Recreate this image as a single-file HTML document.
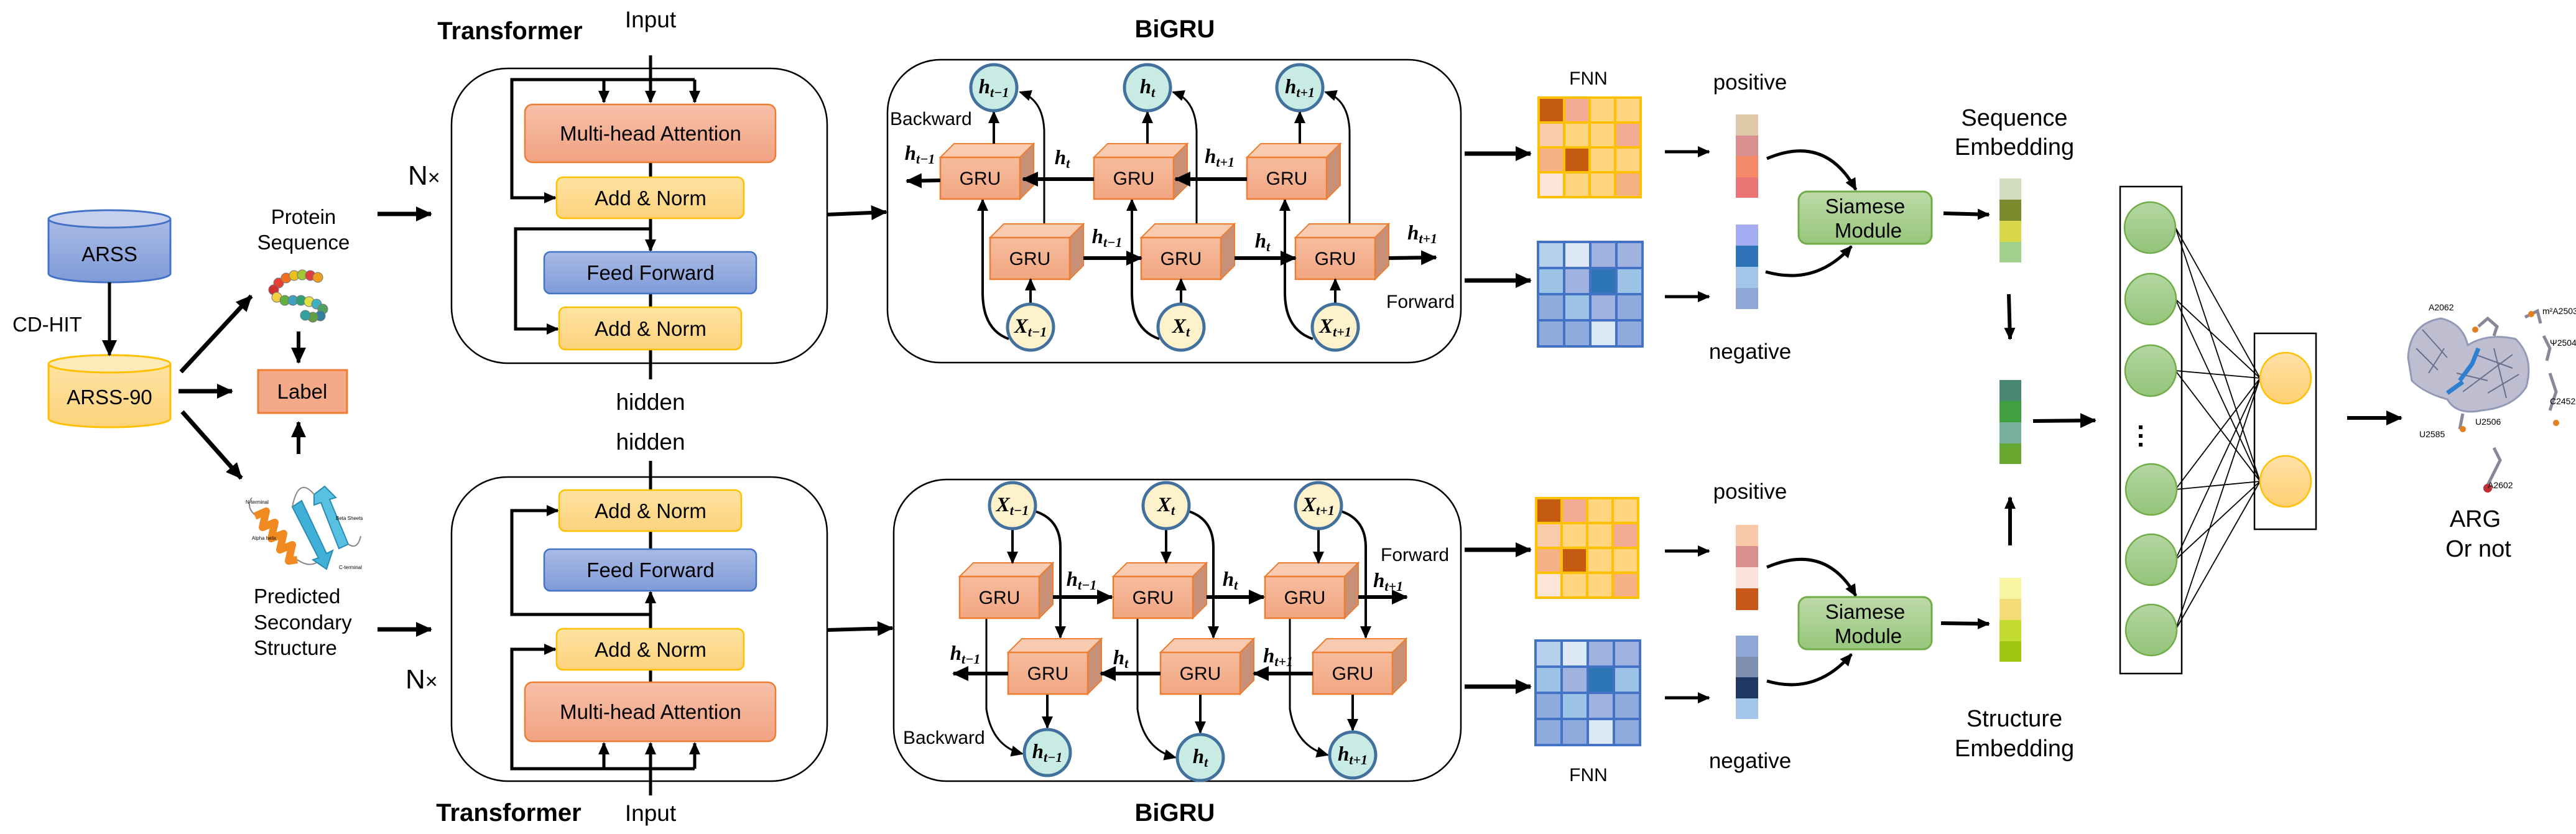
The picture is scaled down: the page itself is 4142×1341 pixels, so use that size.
<!DOCTYPE html>
<html><head><meta charset="utf-8"><style>
html,body{margin:0;padding:0;background:#fff;}
svg{display:block;}
text{font-family:"Liberation Sans",sans-serif;fill:#000;}
.t{font-size:33px;text-anchor:middle;}
.s{font-family:"Liberation Serif",serif;font-style:italic;font-weight:bold;font-size:33px;text-anchor:middle;}
</style></head><body>
<svg width="4142" height="1341" viewBox="0 0 4142 1341" xmlns="http://www.w3.org/2000/svg">
<defs>
<marker id="a" markerUnits="userSpaceOnUse" markerWidth="26" markerHeight="24" refX="24" refY="12" orient="auto"><path d="M0,0 L26,12 L0,24 z" fill="#000"/></marker>
<marker id="b" markerUnits="userSpaceOnUse" markerWidth="20" markerHeight="18" refX="18" refY="9" orient="auto"><path d="M0,0 L20,9 L0,18 z" fill="#000"/></marker>
<linearGradient id="gm" x1="0" y1="0" x2="0" y2="1"><stop offset="0" stop-color="#f6c0a8"/><stop offset="1" stop-color="#f2a282"/></linearGradient>
<linearGradient id="gy" x1="0" y1="0" x2="0" y2="1"><stop offset="0" stop-color="#fee3a2"/><stop offset="1" stop-color="#fdd27c"/></linearGradient>
<linearGradient id="gb" x1="0" y1="0" x2="0" y2="1"><stop offset="0" stop-color="#a9bbe6"/><stop offset="1" stop-color="#7f9bd8"/></linearGradient>
<linearGradient id="gg" x1="0" y1="0" x2="0" y2="1"><stop offset="0" stop-color="#bddaa8"/><stop offset="1" stop-color="#97c67c"/></linearGradient>
<linearGradient id="gc" x1="0" y1="0" x2="0" y2="1"><stop offset="0" stop-color="#b4d6a2"/><stop offset="1" stop-color="#93c47a"/></linearGradient>
<linearGradient id="go" x1="0" y1="0" x2="0" y2="1"><stop offset="0" stop-color="#ffe0a8"/><stop offset="1" stop-color="#ffd070"/></linearGradient>
<linearGradient id="gf" x1="0" y1="0" x2="0" y2="1"><stop offset="0" stop-color="#f6bc9e"/><stop offset="1" stop-color="#f2a682"/></linearGradient>
<g id="gru">
<polygon points="0,0 22,-22 150,-22 128,0" fill="#f8cbb0" stroke="#ed7d31" stroke-width="2"/>
<polygon points="128,0 150,-22 150,45 128,67" fill="#c99078" stroke="#ed7d31" stroke-width="2"/>
<rect x="0" y="0" width="128" height="67" fill="url(#gf)" stroke="#ed7d31" stroke-width="2.5"/>
</g>
</defs>

<!-- LEFT DATA -->
<path d="M78,352 L78,440 A98,14 0 0 0 274,440 L274,352" fill="url(#gb)" stroke="#4472c4" stroke-width="3"/>
<ellipse cx="176" cy="352" rx="98" ry="14" fill="#c5d0ef" stroke="#4472c4" stroke-width="3"/>
<text x="176" y="420" class="t">ARSS</text>
<path d="M78,585 L78,673 A98,14 0 0 0 274,673 L274,585" fill="url(#gy)" stroke="#ffc000" stroke-width="3"/>
<ellipse cx="176" cy="585" rx="98" ry="14" fill="#feeab8" stroke="#ffc000" stroke-width="3"/>
<text x="176" y="650" class="t">ARSS-90</text>
<line x1="176" y1="454" x2="176" y2="571" stroke="#000" stroke-width="5" marker-end="url(#a)"/>
<text x="20" y="533" font-size="33">CD-HIT</text>

<line x1="291" y1="598" x2="404" y2="476" stroke="#000" stroke-width="7" marker-end="url(#a)"/>
<line x1="287" y1="629" x2="373" y2="629" stroke="#000" stroke-width="7" marker-end="url(#a)"/>
<line x1="293" y1="662" x2="388" y2="769" stroke="#000" stroke-width="7" marker-end="url(#a)"/>

<text x="488" y="360" class="t" font-size="32">Protein</text>
<text x="488" y="401" class="t" font-size="32">Sequence</text>
<g stroke="#777" stroke-width="1">
<circle cx="448" cy="455" r="8" fill="#e84030"/><circle cx="460" cy="447" r="8" fill="#f07020"/><circle cx="473" cy="443" r="8" fill="#e8c020"/><circle cx="486" cy="442" r="8" fill="#a0c830"/><circle cx="499" cy="443" r="8" fill="#e04040"/><circle cx="511" cy="446" r="8" fill="#f0a020"/>
<circle cx="440" cy="466" r="8" fill="#d03030"/><circle cx="445" cy="478" r="8" fill="#f0d040"/><circle cx="458" cy="483" r="8" fill="#60b040"/><circle cx="471" cy="483" r="8" fill="#40a0c0"/><circle cx="484" cy="483" r="8" fill="#30a070"/><circle cx="497" cy="485" r="8" fill="#e0e040"/><circle cx="509" cy="489" r="8" fill="#40b0c0"/><circle cx="519" cy="497" r="8" fill="#50a060"/><circle cx="515" cy="508" r="8" fill="#3080a0"/><circle cx="503" cy="510" r="8" fill="#60a040"/><circle cx="491" cy="507" r="8" fill="#30a0a0"/>
</g>
<line x1="480" y1="533" x2="480" y2="583" stroke="#000" stroke-width="6" marker-end="url(#a)"/>
<rect x="415" y="595" width="143" height="69" fill="#f4aa88" stroke="#ed7d31" stroke-width="3"/>
<text x="486" y="641" class="t">Label</text>
<line x1="480" y1="730" x2="480" y2="679" stroke="#000" stroke-width="6" marker-end="url(#a)"/>
<!-- secondary structure -->
<path d="M405,800 Q395,815 410,828" fill="none" stroke="#888" stroke-width="2"/>
<polyline points="410,830 428,822 422,848 442,840 436,866 456,858 450,884 470,876 464,902 478,900" fill="none" stroke="#f08a20" stroke-width="12" stroke-linejoin="round"/>
<path d="M478,900 Q500,915 515,900" fill="none" stroke="#888" stroke-width="2"/>
<polygon points="470,815 485,805 525,890 535,885 525,915 503,900 512,897" fill="#40b0d8" stroke="#2a8cb0" stroke-width="2"/>
<polygon points="505,795 522,782 540,800 530,803 560,875 545,882 516,808 505,812" fill="#58c0e0" stroke="#2a8cb0" stroke-width="2"/>
<path d="M470,815 Q480,765 505,795 M560,875 Q575,885 580,862" fill="none" stroke="#888" stroke-width="2"/>
<text x="395" y="810" font-size="8">N-terminal</text><text x="405" y="868" font-size="8">Alpha helix</text><text x="540" y="836" font-size="8">Beta Sheets</text><text x="545" y="915" font-size="8">C-terminal</text>
<text x="408" y="970" font-size="33">Predicted</text>
<text x="408" y="1012" font-size="33">Secondary</text>
<text x="408" y="1053" font-size="33">Structure</text>

<line x1="607" y1="344" x2="693" y2="344" stroke="#000" stroke-width="7" marker-end="url(#a)"/>
<line x1="607" y1="1012" x2="693" y2="1012" stroke="#000" stroke-width="7" marker-end="url(#a)"/>
<text x="656" y="297" font-size="44">N<tspan font-size="34">×</tspan></text>
<text x="652" y="1107" font-size="44">N<tspan font-size="34">×</tspan></text>

<!-- TOP TRANSFORMER -->
<text x="820" y="63" font-size="40" font-weight="bold" text-anchor="middle">Transformer</text>
<text x="1046" y="44" font-size="37" text-anchor="middle">Input</text>
<rect x="726" y="110" width="604" height="474" rx="90" fill="none" stroke="#000" stroke-width="2.5"/>
<g stroke="#000" stroke-width="5" fill="none">
<line x1="1046" y1="89" x2="1046" y2="164" marker-end="url(#b)"/>
<polyline points="1117,128 1117,164" marker-end="url(#b)"/>
<polyline points="971,128 971,164" marker-end="url(#b)"/>
<polyline points="1117,128 823,128 823,318 893,318" marker-end="url(#b)"/>
<line x1="1046" y1="261" x2="1046" y2="285"/>
<line x1="1046" y1="351" x2="1046" y2="403" marker-end="url(#b)"/>
<polyline points="1046,368 829,368 829,529 897,529" marker-end="url(#b)"/>
<line x1="1046" y1="472" x2="1046" y2="494"/>
<line x1="1046" y1="562" x2="1046" y2="610"/>
</g>
<rect x="844" y="168" width="403" height="93" rx="12" fill="url(#gm)" stroke="#ed7d31" stroke-width="2.5"/>
<text x="1046" y="226" class="t">Multi-head Attention</text>
<rect x="895" y="285" width="301" height="66" rx="10" fill="url(#gy)" stroke="#ffc000" stroke-width="2.5"/>
<text x="1046" y="330" class="t">Add &amp; Norm</text>
<rect x="875" y="405" width="341" height="67" rx="10" fill="url(#gb)" stroke="#4472c4" stroke-width="2.5"/>
<text x="1046" y="450" class="t">Feed Forward</text>
<rect x="899" y="494" width="293" height="68" rx="10" fill="url(#gy)" stroke="#ffc000" stroke-width="2.5"/>
<text x="1046" y="540" class="t">Add &amp; Norm</text>
<text x="1046" y="659" font-size="37" text-anchor="middle">hidden</text>
<text x="1046" y="723" font-size="37" text-anchor="middle">hidden</text>

<!-- BOTTOM TRANSFORMER -->
<rect x="726" y="767" width="604" height="489" rx="90" fill="none" stroke="#000" stroke-width="2.5"/>
<g stroke="#000" stroke-width="5" fill="none">
<line x1="1046" y1="741" x2="1046" y2="788"/>
<line x1="1046" y1="854" x2="1046" y2="883"/>
<line x1="1046" y1="1011" x2="1046" y2="952" marker-end="url(#b)"/>
<polyline points="1046,988 823,988 823,821 897,821" marker-end="url(#b)"/>
<line x1="1046" y1="1077" x2="1046" y2="1097"/>
<polyline points="1117,1236 823,1236 823,1044 893,1044" marker-end="url(#b)"/>
<line x1="971" y1="1236" x2="971" y2="1195" marker-end="url(#b)"/>
<line x1="1117" y1="1236" x2="1117" y2="1195" marker-end="url(#b)"/>
<line x1="1046" y1="1279" x2="1046" y2="1195" marker-end="url(#b)"/>
</g>
<rect x="899" y="788" width="293" height="66" rx="10" fill="url(#gy)" stroke="#ffc000" stroke-width="2.5"/>
<text x="1046" y="833" class="t">Add &amp; Norm</text>
<rect x="875" y="883" width="341" height="67" rx="10" fill="url(#gb)" stroke="#4472c4" stroke-width="2.5"/>
<text x="1046" y="928" class="t">Feed Forward</text>
<rect x="895" y="1011" width="301" height="66" rx="10" fill="url(#gy)" stroke="#ffc000" stroke-width="2.5"/>
<text x="1046" y="1056" class="t">Add &amp; Norm</text>
<rect x="844" y="1097" width="403" height="95" rx="12" fill="url(#gm)" stroke="#ed7d31" stroke-width="2.5"/>
<text x="1046" y="1156" class="t">Multi-head Attention</text>
<text x="818" y="1320" font-size="40" font-weight="bold" text-anchor="middle">Transformer</text>
<text x="1046" y="1320" font-size="37" text-anchor="middle">Input</text>

<line x1="1330" y1="345" x2="1425" y2="341" stroke="#000" stroke-width="6" marker-end="url(#a)"/>
<line x1="1330" y1="1013" x2="1435" y2="1010" stroke="#000" stroke-width="6" marker-end="url(#a)"/>

<!-- TOP BiGRU -->
<text x="1889" y="60" font-size="40" font-weight="bold" text-anchor="middle">BiGRU</text>
<rect x="1427" y="96" width="922" height="487" rx="85" fill="none" stroke="#000" stroke-width="2.5"/>
<g stroke="#000" stroke-width="3" fill="none">
<path d="M1622,545 Q1580,530 1580,470 L1580,321" marker-end="url(#b)" stroke-width="4"/>
<path d="M1864,545 Q1820,530 1820,470 L1820,321" marker-end="url(#b)" stroke-width="4"/>
<path d="M2111,545 Q2066,530 2066,470 L2066,321" marker-end="url(#b)" stroke-width="4"/>
<path d="M1679,362 L1679,210 Q1677,160 1640,148" marker-end="url(#b)"/>
<path d="M1924,362 L1924,210 Q1922,160 1886,148" marker-end="url(#b)"/>
<path d="M2170,362 L2170,210 Q2168,160 2131,148" marker-end="url(#b)"/>
</g>
<use href="#gru" x="1512" y="253"/><use href="#gru" x="1759" y="253"/><use href="#gru" x="2005" y="253"/>
<use href="#gru" x="1592" y="382"/><use href="#gru" x="1835" y="382"/><use href="#gru" x="2083" y="382"/>
<g font-size="30" text-anchor="middle">
<text x="1576" y="297">GRU</text><text x="1823" y="297">GRU</text><text x="2069" y="297">GRU</text>
<text x="1656" y="426">GRU</text><text x="1899" y="426">GRU</text><text x="2147" y="426">GRU</text>
</g>
<g stroke="#000" stroke-width="6" fill="none">
<line x1="2005" y1="288" x2="1890" y2="288" marker-end="url(#a)"/>
<line x1="1759" y1="288" x2="1645" y2="288" marker-end="url(#a)"/>
<line x1="1512" y1="290" x2="1458" y2="291" marker-end="url(#a)"/>
<line x1="1742" y1="415" x2="1835" y2="415" marker-end="url(#a)"/>
<line x1="1985" y1="415" x2="2083" y2="415" marker-end="url(#a)"/>
<line x1="2233" y1="415" x2="2309" y2="414" marker-end="url(#a)"/>
<line x1="1598" y1="231" x2="1598" y2="180" stroke-width="4" marker-end="url(#b)"/>
<line x1="1845" y1="231" x2="1845" y2="180" stroke-width="4" marker-end="url(#b)"/>
<line x1="2090" y1="231" x2="2090" y2="180" stroke-width="4" marker-end="url(#b)"/>
<line x1="1657" y1="488" x2="1657" y2="449" stroke-width="4" marker-end="url(#b)"/>
<line x1="1899" y1="488" x2="1899" y2="449" stroke-width="4" marker-end="url(#b)"/>
<line x1="2147" y1="488" x2="2147" y2="449" stroke-width="4" marker-end="url(#b)"/>
</g>
<g stroke="#41719c" stroke-width="5">
<circle cx="1598" cy="141" r="37" fill="#c8ece4"/><circle cx="1845" cy="141" r="37" fill="#c8ece4"/><circle cx="2090" cy="141" r="37" fill="#c8ece4"/>
<circle cx="1657" cy="526" r="37" fill="#fdf2cc"/><circle cx="1899" cy="526" r="37" fill="#fdf2cc"/><circle cx="2147" cy="526" r="37" fill="#fdf2cc"/>
</g>
<text x="1598" y="150" class="s">h<tspan font-size="22" dy="6">t−1</tspan></text>
<text x="1845" y="150" class="s">h<tspan font-size="22" dy="6">t</tspan></text>
<text x="2090" y="150" class="s">h<tspan font-size="22" dy="6">t+1</tspan></text>
<text x="1657" y="535" class="s">X<tspan font-size="22" dy="6">t−1</tspan></text>
<text x="1899" y="535" class="s">X<tspan font-size="22" dy="6">t</tspan></text>
<text x="2147" y="535" class="s">X<tspan font-size="22" dy="6">t+1</tspan></text>
<text x="1479" y="257" class="s">h<tspan font-size="22" dy="6">t−1</tspan></text>
<text x="1708" y="264" class="s">h<tspan font-size="22" dy="6">t</tspan></text>
<text x="1961" y="262" class="s">h<tspan font-size="22" dy="6">t+1</tspan></text>
<text x="1780" y="391" class="s">h<tspan font-size="22" dy="6">t−1</tspan></text>
<text x="2030" y="398" class="s">h<tspan font-size="22" dy="6">t</tspan></text>
<text x="2287" y="385" class="s">h<tspan font-size="22" dy="6">t+1</tspan></text>
<text x="1431" y="201" font-size="30">Backward</text>
<text x="2229" y="495" font-size="30">Forward</text>

<!-- BOTTOM BiGRU -->
<rect x="1437" y="771" width="912" height="485" rx="85" fill="none" stroke="#000" stroke-width="2.5"/>
<g stroke="#000" stroke-width="3" fill="none">
<path d="M1664,822 Q1705,835 1705,880 L1705,1025" marker-end="url(#b)" stroke-width="4"/>
<path d="M1911,822 Q1951,835 1951,880 L1951,1025" marker-end="url(#b)" stroke-width="4"/>
<path d="M2156,822 Q2196,835 2196,880 L2196,1025" marker-end="url(#b)" stroke-width="4"/>
<path d="M1586,994 L1586,1140 Q1595,1200 1644,1212" marker-end="url(#b)"/>
<path d="M1829,994 L1829,1140 Q1838,1205 1890,1218" marker-end="url(#b)"/>
<path d="M2074,994 L2074,1140 Q2083,1200 2135,1214" marker-end="url(#b)"/>
</g>
<use href="#gru" x="1543" y="927"/><use href="#gru" x="1790" y="927"/><use href="#gru" x="2034" y="927"/>
<use href="#gru" x="1621" y="1049"/><use href="#gru" x="1866" y="1049"/><use href="#gru" x="2111" y="1049"/>
<g font-size="30" text-anchor="middle">
<text x="1607" y="971">GRU</text><text x="1854" y="971">GRU</text><text x="2098" y="971">GRU</text>
<text x="1685" y="1093">GRU</text><text x="1930" y="1093">GRU</text><text x="2175" y="1093">GRU</text>
</g>
<g stroke="#000" stroke-width="6" fill="none">
<line x1="1693" y1="960" x2="1788" y2="960" marker-end="url(#a)"/>
<line x1="1940" y1="960" x2="2032" y2="960" marker-end="url(#a)"/>
<line x1="2184" y1="960" x2="2262" y2="960" marker-end="url(#a)"/>
<line x1="2111" y1="1083" x2="2016" y2="1083" marker-end="url(#a)"/>
<line x1="1866" y1="1083" x2="1770" y2="1083" marker-end="url(#a)"/>
<line x1="1621" y1="1083" x2="1533" y2="1083" marker-end="url(#a)"/>
<line x1="1628" y1="851" x2="1628" y2="905" stroke-width="4" marker-end="url(#b)"/>
<line x1="1875" y1="851" x2="1875" y2="905" stroke-width="4" marker-end="url(#b)"/>
<line x1="2120" y1="851" x2="2120" y2="905" stroke-width="4" marker-end="url(#b)"/>
<line x1="1684" y1="1117" x2="1684" y2="1170" stroke-width="4" marker-end="url(#b)"/>
<line x1="1930" y1="1117" x2="1930" y2="1178" stroke-width="4" marker-end="url(#b)"/>
<line x1="2175" y1="1117" x2="2175" y2="1174" stroke-width="4" marker-end="url(#b)"/>
</g>
<g stroke="#41719c" stroke-width="5">
<circle cx="1628" cy="813" r="37" fill="#fdf2cc"/><circle cx="1875" cy="813" r="37" fill="#fdf2cc"/><circle cx="2120" cy="813" r="37" fill="#fdf2cc"/>
<circle cx="1684" cy="1210" r="37" fill="#c8ece4"/><circle cx="1930" cy="1218" r="37" fill="#c8ece4"/><circle cx="2175" cy="1214" r="37" fill="#c8ece4"/>
</g>
<text x="1628" y="822" class="s">X<tspan font-size="22" dy="6">t−1</tspan></text>
<text x="1875" y="822" class="s">X<tspan font-size="22" dy="6">t</tspan></text>
<text x="2120" y="822" class="s">X<tspan font-size="22" dy="6">t+1</tspan></text>
<text x="1684" y="1219" class="s">h<tspan font-size="22" dy="6">t−1</tspan></text>
<text x="1930" y="1227" class="s">h<tspan font-size="22" dy="6">t</tspan></text>
<text x="2175" y="1223" class="s">h<tspan font-size="22" dy="6">t+1</tspan></text>
<text x="1739" y="942" class="s">h<tspan font-size="22" dy="6">t−1</tspan></text>
<text x="1978" y="942" class="s">h<tspan font-size="22" dy="6">t</tspan></text>
<text x="2232" y="944" class="s">h<tspan font-size="22" dy="6">t+1</tspan></text>
<text x="1552" y="1061" class="s">h<tspan font-size="22" dy="6">t−1</tspan></text>
<text x="1802" y="1068" class="s">h<tspan font-size="22" dy="6">t</tspan></text>
<text x="2055" y="1065" class="s">h<tspan font-size="22" dy="6">t+1</tspan></text>
<text x="2220" y="902" font-size="30">Forward</text>
<text x="1452" y="1196" font-size="30">Backward</text>
<text x="1889" y="1320" font-size="40" font-weight="bold" text-anchor="middle">BiGRU</text>

<!-- arrows to FNN -->
<g stroke="#000" stroke-width="7">
<line x1="2355" y1="247" x2="2461" y2="247" marker-end="url(#a)"/>
<line x1="2355" y1="451" x2="2461" y2="451" marker-end="url(#a)"/>
<line x1="2355" y1="884" x2="2461" y2="884" marker-end="url(#a)"/>
<line x1="2355" y1="1104" x2="2461" y2="1104" marker-end="url(#a)"/>
<line x1="2677" y1="244" x2="2748" y2="244" stroke-width="5" marker-end="url(#b)"/>
<line x1="2677" y1="477" x2="2748" y2="477" stroke-width="5" marker-end="url(#b)"/>
<line x1="2677" y1="886" x2="2748" y2="886" stroke-width="5" marker-end="url(#b)"/>
<line x1="2677" y1="1122" x2="2748" y2="1122" stroke-width="5" marker-end="url(#b)"/>
</g>
<text x="2554" y="136" font-size="30" text-anchor="middle">FNN</text>
<text x="2554" y="1256" font-size="30" text-anchor="middle">FNN</text>

<g transform="translate(2474,157)" stroke="#ffc000" stroke-width="4">
<rect x="0" y="0" width="41" height="40" fill="#c55a11"/><rect x="41" y="0" width="41" height="40" fill="#f2ac94"/><rect x="82" y="0" width="41" height="40" fill="#ffd57f"/><rect x="123" y="0" width="41" height="40" fill="#ffd57f"/>
<rect x="0" y="40" width="41" height="40" fill="#f8cbad"/><rect x="41" y="40" width="41" height="40" fill="#ffd57f"/><rect x="82" y="40" width="41" height="40" fill="#ffd57f"/><rect x="123" y="40" width="41" height="40" fill="#f2ac94"/>
<rect x="0" y="80" width="41" height="40" fill="#f4b183"/><rect x="41" y="80" width="41" height="40" fill="#c55a11"/><rect x="82" y="80" width="41" height="40" fill="#ffd57f"/><rect x="123" y="80" width="41" height="40" fill="#ffd57f"/>
<rect x="0" y="120" width="41" height="40" fill="#fbe5d6"/><rect x="41" y="120" width="41" height="40" fill="#ffd57f"/><rect x="82" y="120" width="41" height="40" fill="#ffd57f"/><rect x="123" y="120" width="41" height="40" fill="#f4b183"/>
</g>
<g transform="translate(2470,801)" stroke="#ffc000" stroke-width="4">
<rect x="0" y="0" width="41" height="40" fill="#c55a11"/><rect x="41" y="0" width="41" height="40" fill="#f2ac94"/><rect x="82" y="0" width="41" height="40" fill="#ffd57f"/><rect x="123" y="0" width="41" height="40" fill="#ffd57f"/>
<rect x="0" y="40" width="41" height="40" fill="#f8cbad"/><rect x="41" y="40" width="41" height="40" fill="#ffd57f"/><rect x="82" y="40" width="41" height="40" fill="#ffd57f"/><rect x="123" y="40" width="41" height="40" fill="#f2ac94"/>
<rect x="0" y="80" width="41" height="40" fill="#f4b183"/><rect x="41" y="80" width="41" height="40" fill="#c55a11"/><rect x="82" y="80" width="41" height="40" fill="#ffd57f"/><rect x="123" y="80" width="41" height="40" fill="#ffd57f"/>
<rect x="0" y="120" width="41" height="40" fill="#fbe5d6"/><rect x="41" y="120" width="41" height="40" fill="#ffd57f"/><rect x="82" y="120" width="41" height="40" fill="#ffd57f"/><rect x="123" y="120" width="41" height="40" fill="#f4b183"/>
</g>
<g transform="translate(2473,389)" stroke="#4472c4" stroke-width="4">
<rect x="0" y="0" width="42" height="42" fill="#b4d0ec"/><rect x="42" y="0" width="42" height="42" fill="#dce8f6"/><rect x="84" y="0" width="42" height="42" fill="#9fb2e0"/><rect x="126" y="0" width="42" height="42" fill="#9fb2e0"/>
<rect x="0" y="42" width="42" height="42" fill="#9dc3e6"/><rect x="42" y="42" width="42" height="42" fill="#9fb2e0"/><rect x="84" y="42" width="42" height="42" fill="#2e75b6"/><rect x="126" y="42" width="42" height="42" fill="#9dc3e6"/>
<rect x="0" y="84" width="42" height="42" fill="#8faadc"/><rect x="42" y="84" width="42" height="42" fill="#9dc3e6"/><rect x="84" y="84" width="42" height="42" fill="#9fb2e0"/><rect x="126" y="84" width="42" height="42" fill="#8faadc"/>
<rect x="0" y="126" width="42" height="42" fill="#8faadc"/><rect x="42" y="126" width="42" height="42" fill="#8faadc"/><rect x="84" y="126" width="42" height="42" fill="#dae8f6"/><rect x="126" y="126" width="42" height="42" fill="#8faadc"/>
</g>
<g transform="translate(2469,1030)" stroke="#4472c4" stroke-width="4">
<rect x="0" y="0" width="42" height="42" fill="#b4d0ec"/><rect x="42" y="0" width="42" height="42" fill="#dce8f6"/><rect x="84" y="0" width="42" height="42" fill="#9fb2e0"/><rect x="126" y="0" width="42" height="42" fill="#9fb2e0"/>
<rect x="0" y="42" width="42" height="42" fill="#9dc3e6"/><rect x="42" y="42" width="42" height="42" fill="#9fb2e0"/><rect x="84" y="42" width="42" height="42" fill="#2e75b6"/><rect x="126" y="42" width="42" height="42" fill="#9dc3e6"/>
<rect x="0" y="84" width="42" height="42" fill="#8faadc"/><rect x="42" y="84" width="42" height="42" fill="#9dc3e6"/><rect x="84" y="84" width="42" height="42" fill="#9fb2e0"/><rect x="126" y="84" width="42" height="42" fill="#8faadc"/>
<rect x="0" y="126" width="42" height="42" fill="#8faadc"/><rect x="42" y="126" width="42" height="42" fill="#8faadc"/><rect x="84" y="126" width="42" height="42" fill="#dae8f6"/><rect x="126" y="126" width="42" height="42" fill="#8faadc"/>
</g>

<text x="2814" y="144" font-size="35" text-anchor="middle">positive</text>
<text x="2814" y="577" font-size="35" text-anchor="middle">negative</text>
<text x="2814" y="802" font-size="35" text-anchor="middle">positive</text>
<text x="2814" y="1235" font-size="35" text-anchor="middle">negative</text>
<rect x="2791" y="184" width="36" height="34" fill="#dfc8a8"/><rect x="2791" y="218" width="36" height="33" fill="#d89090"/><rect x="2791" y="251" width="36" height="34" fill="#f48a68"/><rect x="2791" y="285" width="36" height="33" fill="#ea7474"/>
<rect x="2791" y="361" width="36" height="34" fill="#a4acf2"/><rect x="2791" y="395" width="36" height="34" fill="#2f74b8"/><rect x="2791" y="429" width="36" height="34" fill="#a2c6ea"/><rect x="2791" y="463" width="36" height="34" fill="#90a8d8"/>
<rect x="2791" y="844" width="36" height="34" fill="#f8c8a8"/><rect x="2791" y="878" width="36" height="34" fill="#d89090"/><rect x="2791" y="912" width="36" height="34" fill="#fbe3da"/><rect x="2791" y="946" width="36" height="35" fill="#c85818"/>
<rect x="2791" y="1022" width="36" height="34" fill="#90a8d8"/><rect x="2791" y="1056" width="36" height="33" fill="#8090b0"/><rect x="2791" y="1089" width="36" height="34" fill="#1f3864"/><rect x="2791" y="1123" width="36" height="33" fill="#a2c6ea"/>

<g stroke="#000" stroke-width="5" fill="none">
<path d="M2841,255 Q2935,215 2984,305" marker-end="url(#b)"/>
<path d="M2839,437 Q2920,460 2977,396" marker-end="url(#b)"/>
<path d="M2841,912 Q2935,872 2984,958" marker-end="url(#b)"/>
<path d="M2841,1095 Q2920,1118 2977,1052" marker-end="url(#b)"/>
</g>
<rect x="2892" y="308" width="214" height="84" rx="14" fill="url(#gg)" stroke="#70ad47" stroke-width="3"/>
<text x="2999" y="343" class="t" font-size="32">Siamese</text><text x="3004" y="382" class="t" font-size="32">Module</text>
<rect x="2892" y="960" width="214" height="84" rx="14" fill="url(#gg)" stroke="#70ad47" stroke-width="3"/>
<text x="2999" y="995" class="t" font-size="32">Siamese</text><text x="3004" y="1034" class="t" font-size="32">Module</text>

<g stroke="#000" stroke-width="6">
<line x1="3125" y1="343" x2="3198" y2="345" marker-end="url(#b)"/>
<line x1="3121" y1="1002" x2="3198" y2="1003" marker-end="url(#b)"/>
<line x1="3230" y1="473" x2="3232" y2="545" marker-end="url(#b)"/>
<line x1="3232" y1="877" x2="3232" y2="800" marker-end="url(#b)"/>
<line x1="3269" y1="677" x2="3369" y2="676" marker-end="url(#a)"/>
<line x1="3774" y1="672" x2="3861" y2="672" marker-end="url(#a)"/>
</g>
<text x="3239" y="202" font-size="38" text-anchor="middle">Sequence</text>
<text x="3239" y="249" font-size="38" text-anchor="middle">Embedding</text>
<rect x="3215" y="287" width="35" height="34" fill="#d4dcc0"/><rect x="3215" y="321" width="35" height="34" fill="#7a8a2c"/><rect x="3215" y="355" width="35" height="34" fill="#d8d848"/><rect x="3215" y="389" width="35" height="33" fill="#a2d08e"/>
<rect x="3215" y="611" width="35" height="34" fill="#488870"/><rect x="3215" y="645" width="35" height="34" fill="#40a040"/><rect x="3215" y="679" width="35" height="34" fill="#78b0a0"/><rect x="3215" y="713" width="35" height="33" fill="#68a830"/>
<rect x="3215" y="929" width="35" height="34" fill="#f8f4a0"/><rect x="3215" y="963" width="35" height="34" fill="#f4dc78"/><rect x="3215" y="997" width="35" height="34" fill="#c4dc30"/><rect x="3215" y="1031" width="35" height="33" fill="#a0c810"/>
<text x="3239" y="1168" font-size="38" text-anchor="middle">Structure</text>
<text x="3239" y="1216" font-size="38" text-anchor="middle">Embedding</text>

<g stroke="#000" stroke-width="1.8">
<line x1="3498" y1="366" x2="3634" y2="608"/><line x1="3498" y1="366" x2="3634" y2="774"/>
<line x1="3498" y1="481" x2="3634" y2="608"/><line x1="3498" y1="481" x2="3634" y2="774"/>
<line x1="3498" y1="596" x2="3634" y2="608"/><line x1="3498" y1="596" x2="3634" y2="774"/>
<line x1="3498" y1="787" x2="3634" y2="608"/><line x1="3498" y1="787" x2="3634" y2="774"/>
<line x1="3498" y1="900" x2="3634" y2="608"/><line x1="3498" y1="900" x2="3634" y2="774"/>
<line x1="3498" y1="1013" x2="3634" y2="608"/><line x1="3498" y1="1013" x2="3634" y2="774"/>
</g>
<rect x="3409" y="300" width="99" height="783" fill="none" stroke="#000" stroke-width="2.5"/>
<rect x="3625" y="536" width="99" height="315" fill="none" stroke="#000" stroke-width="2.5"/>
<g fill="url(#gc)" stroke="#70ad47" stroke-width="2.5">
<circle cx="3457" cy="366" r="41"/><circle cx="3458" cy="481" r="41"/><circle cx="3458" cy="596" r="41"/><circle cx="3459" cy="787" r="41"/><circle cx="3459" cy="900" r="41"/><circle cx="3459" cy="1013" r="41"/>
</g>
<g fill="#000"><rect x="3439" y="684" width="6" height="6"/><rect x="3439" y="698" width="6" height="6"/><rect x="3439" y="712" width="6" height="6"/></g>
<g fill="url(#go)" stroke="#ffc000" stroke-width="2.5">
<circle cx="3675" cy="608" r="41"/><circle cx="3675" cy="774" r="41"/>
</g>

<!-- molecule -->
<g>
<path d="M3872,575 Q3875,520 3925,512 Q3960,520 3968,555 Q4000,535 4045,545 Q4075,575 4062,622 Q4042,655 3990,660 Q3950,668 3935,642 Q3898,632 3878,612 Z" fill="#b8b8cc" stroke="#8890b0" stroke-width="3" opacity="0.9"/>
<path d="M3885,560 L3920,595 M3895,530 L3935,575 M3905,600 L3930,560 M3950,600 L4000,612 M3980,570 L4040,592 M4000,632 L4050,602 M4010,560 L4030,640 M3960,630 L4040,570" stroke="#6a6f90" stroke-width="2" fill="none"/>
<path d="M3955,612 L3975,585 L3985,560 M3935,632 L3960,614" stroke="#2f7fd0" stroke-width="7" fill="none"/>
<path d="M3985,525 L4000,512 L4015,525 L4010,540 M4060,510 L4080,500 L4085,520 M4090,540 L4100,560 L4095,580 M4100,600 L4110,630 L4100,660 M3960,665 L3955,690 M4010,720 L4020,740 L4010,760 L4000,780" stroke="#889" stroke-width="5" fill="none"/>
<circle cx="3980" cy="530" r="5" fill="#e08020"/><circle cx="4070" cy="505" r="5" fill="#e08020"/><circle cx="4110" cy="680" r="5" fill="#e08020"/><circle cx="3960" cy="690" r="5" fill="#e08020"/><circle cx="4000" cy="785" r="7" fill="#c03030"/>
<g font-size="14" fill="#444">
<text x="3905" y="499">A2062</text><text x="4088" y="505">m²A2503</text><text x="4100" y="556">Ψ2504</text><text x="4100" y="650">C2452</text><text x="3980" y="683">U2506</text><text x="3890" y="703">U2585</text><text x="4000" y="785">A2602</text>
</g>
</g>
<text x="3980" y="847" font-size="38" text-anchor="middle">ARG</text>
<text x="3985" y="895" font-size="38" text-anchor="middle">Or not</text>
</svg>
</body></html>
